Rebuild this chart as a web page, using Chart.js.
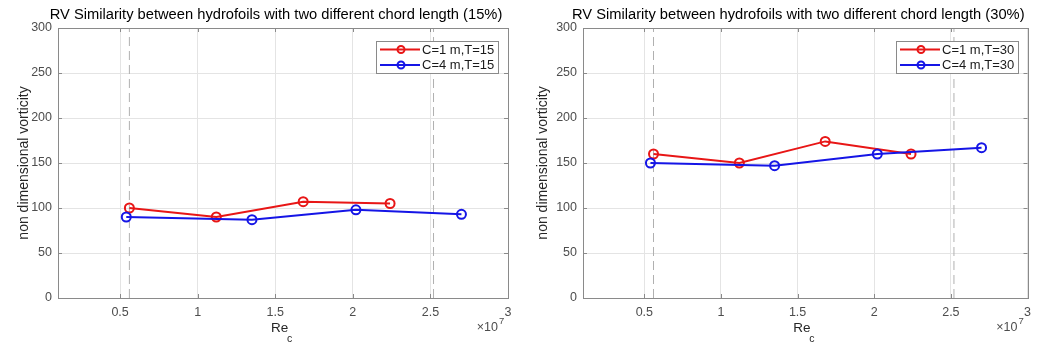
<!DOCTYPE html>
<html>
<head>
<meta charset="utf-8">
<script src="https://cdn.jsdelivr.net/npm/chart.js@4.4.0/dist/chart.umd.min.js"></script>
<style>
  body { margin: 0; background: #fff; }
  .panel { position: absolute; top: 0; width: 519px; height: 346px; }
</style>
</head>
<body>
<div class="panel" style="left:0"><canvas id="chart15" width="519" height="346"></canvas></div>
<div class="panel" style="left:519px"><canvas id="chart30" width="519" height="346"></canvas></div>
<script>
// Reynolds number (x 1e7) for each chord length
const reC1 = [0.56, 1.12, 1.68, 2.24];
const reC4 = [0.54, 1.35, 2.02, 2.70];

// non dimensional vorticity
const vort15C1 = [100, 90, 107, 105];
const vort15C4 = [90, 87, 98, 93];
const vort30C1 = [160, 150, 174, 160];
const vort30C4 = [150, 147, 160, 167];

const xTicks = [0.5, 1, 1.5, 2, 2.5, 3];
const yTicks = [0, 50, 100, 150, 200, 250, 300];
const refLines = [0.56, 2.52]; // dashed gray verticals

const FONT = "'Liberation Sans', Arial, sans-serif";
Chart.defaults.font.family = FONT;

const toPoints = (xs, ys) => xs.map((x, i) => ({ x: x, y: ys[i] }));

// box, inward ticks, axis label with subscript, exponent, title
const framePlugin = {
  id: 'frame',
  afterDraw(chart, args, opts) {
    const { ctx, chartArea: a, scales } = chart;
    ctx.save();
    ctx.strokeStyle = '#8a8a8a';
    ctx.lineWidth = 1;
    ctx.strokeRect(Math.round(a.left) + 0.5, Math.round(a.top) + 0.5,
      Math.round(a.right - a.left), Math.round(a.bottom - a.top));
    ctx.beginPath();
    xTicks.forEach(v => {
      const px = Math.round(scales.x.getPixelForValue(v)) + 0.5;
      ctx.moveTo(px, a.bottom); ctx.lineTo(px, a.bottom - 4);
      ctx.moveTo(px, a.top); ctx.lineTo(px, a.top + 4);
    });
    yTicks.forEach(v => {
      const py = Math.round(scales.y.getPixelForValue(v)) + 0.5;
      ctx.moveTo(a.left, py); ctx.lineTo(a.left + 4, py);
      ctx.moveTo(a.right, py); ctx.lineTo(a.right - 4, py);
    });
    ctx.stroke();

    ctx.fillStyle = '#262626';
    ctx.textBaseline = 'middle';
    ctx.textAlign = 'left';
    const cx = (a.left + a.right) / 2;
    ctx.font = '13.5px ' + FONT;
    ctx.fillText('Re', cx - 12, 328);
    ctx.font = '10.5px ' + FONT;
    ctx.fillText('c', cx + 4, 339);

    ctx.fillStyle = '#4d4d4d';
    ctx.textAlign = 'right';
    ctx.font = '12.5px ' + FONT;
    ctx.fillText('\u00d710', a.right - 10, 328);
    ctx.textAlign = 'left';
    ctx.font = '9.5px ' + FONT;
    ctx.fillText('7', a.right - 9, 321);

    ctx.fillStyle = '#000';
    ctx.textAlign = 'center';
    ctx.font = '14.7px ' + FONT;
    ctx.fillText(opts.title, cx - 7, 15);
    ctx.restore();
  }
};

const legendPlugin = {
  id: 'boxLegend',
  afterDatasetsDraw(chart) {
    const { ctx, chartArea: a } = chart;
    const items = chart.data.datasets.filter(d => d.inLegend);
    ctx.save();
    ctx.font = '13px ' + FONT;
    const textW = Math.max(...items.map(d => ctx.measureText(d.label).width));
    const w = Math.round(46 + textW + 4), h = 32;
    const x = Math.round(a.right - 10 - w), y = Math.round(a.top + 13);
    ctx.fillStyle = '#fff';
    ctx.fillRect(x, y, w, h);
    ctx.strokeStyle = '#8a8a8a';
    ctx.lineWidth = 1;
    ctx.strokeRect(x + 0.5, y + 0.5, w, h);
    items.forEach((d, i) => {
      const cy = y + 8.5 + i * 15.5;
      ctx.strokeStyle = d.borderColor;
      ctx.lineWidth = 2;
      ctx.beginPath();
      ctx.moveTo(x + 4, cy); ctx.lineTo(x + 44, cy);
      ctx.stroke();
      ctx.beginPath();
      ctx.arc(x + 25, cy, 3.5, 0, Math.PI * 2);
      ctx.stroke();
      ctx.fillStyle = '#1a1a1a';
      ctx.textBaseline = 'middle';
      ctx.fillText(d.label, x + 46, cy + 0.5);
    });
    ctx.restore();
  }
};

function makeChart(id, title, tval, c1, c4, axisLeft, padRight) {
  const series = (label, xs, ys, color, order) => ({
    label: label,
    data: toPoints(xs, ys),
    showLine: true,
    inLegend: true,
    order: order,
    borderColor: color,
    borderWidth: 2,
    pointRadius: 4.5,
    pointBorderWidth: 2,
    pointBorderColor: color,
    pointBackgroundColor: 'rgba(0,0,0,0)'
  });
  const datasets = [
    series('C=1 m,T=' + tval, reC1, c1, '#e81616', 1),
    series('C=4 m,T=' + tval, reC4, c4, '#1515e6', 0)
  ];
  refLines.forEach(v => datasets.push({
    data: [{ x: v, y: yTicks[0] }, { x: v, y: yTicks[yTicks.length - 1] }],
    showLine: true,
    order: 2,
    borderColor: '#b0b0b0',
    borderWidth: 1,
    borderDash: [9, 5],
    pointRadius: 0
  }));

  return new Chart(document.getElementById(id), {
    type: 'scatter',
    data: { datasets: datasets },
    options: {
      responsive: false,
      animation: false,
      layout: { padding: { top: 28, right: padRight, left: 0, bottom: 0 } },
      scales: {
        x: {
          type: 'linear',
          min: 0.1,
          max: 3,
          afterBuildTicks: s => { s.ticks = xTicks.map(v => ({ value: v })); },
          afterFit: s => { s.height = 48; },
          grid: { color: '#e4e4e4', drawTicks: false },
          border: { display: false },
          ticks: { padding: 7, color: '#4d4d4d', font: { size: 12.5 }, maxRotation: 0,
                   callback: v => String(v) }
        },
        y: {
          min: 0,
          max: 300,
          afterBuildTicks: s => { s.ticks = yTicks.map(v => ({ value: v })); },
          afterFit: s => { s.width = axisLeft; },
          grid: { color: '#e4e4e4', drawTicks: false },
          border: { display: false },
          ticks: { padding: 6, color: '#4d4d4d', font: { size: 12.5 } },
          title: {
            display: true,
            text: 'non dimensional vorticity',
            color: '#262626',
            font: { size: 14 },
            padding: { top: 16, bottom: 0 }
          }
        }
      },
      plugins: {
        legend: { display: false },
        tooltip: { enabled: false },
        frame: { title: title }
      }
    },
    plugins: [framePlugin, legendPlugin]
  });
}

makeChart('chart15', 'RV Similarity between hydrofoils with two different chord length (15%)',
  15, vort15C1, vort15C4, 58, 11);
makeChart('chart30', 'RV Similarity between hydrofoils with two different chord length (30%)',
  30, vort30C1, vort30C4, 64, 7);
</script>
</body>
</html>
